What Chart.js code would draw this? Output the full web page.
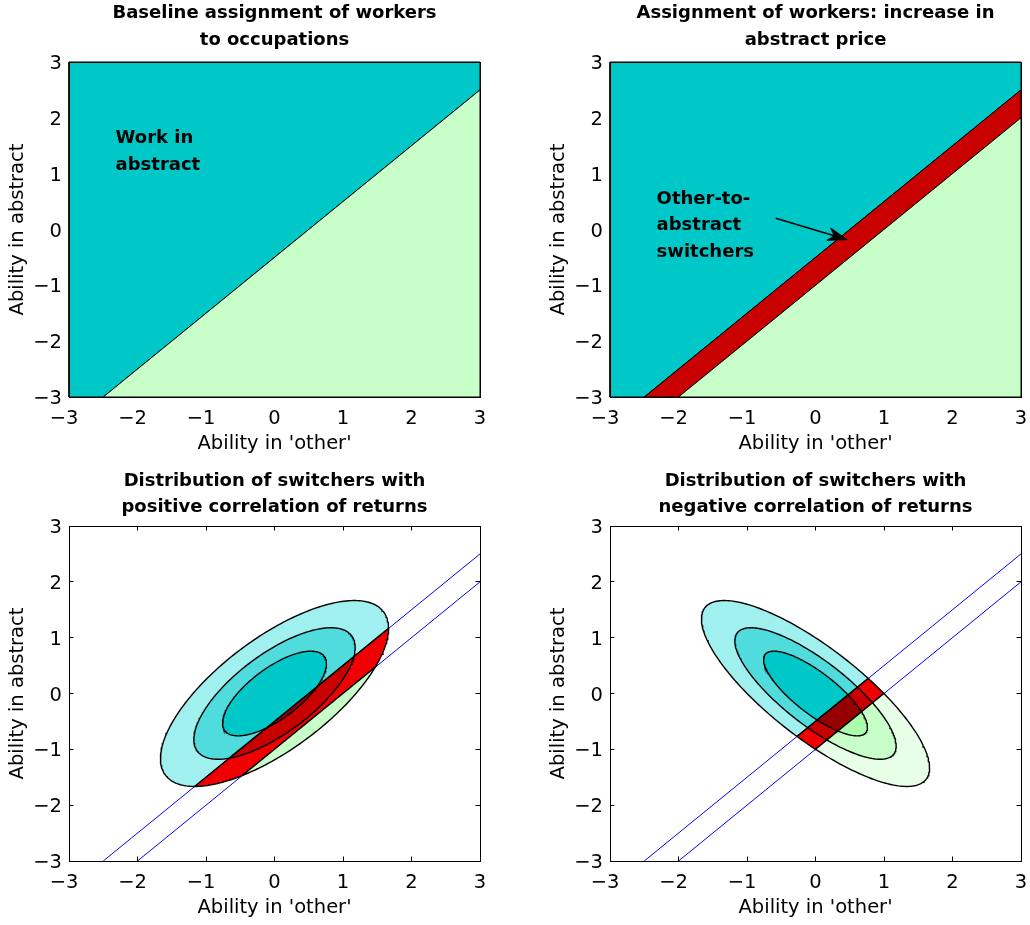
<!DOCTYPE html>
<html>
<head>
<meta charset="utf-8">
<title>Assignment of workers to occupations</title>
<script src="https://cdn.jsdelivr.net/npm/chart.js@4.4.1/dist/chart.umd.min.js"></script>
<style>
  html, body { margin: 0; padding: 0; background: #fff; overflow: hidden; }
  #wrap { position: relative; width: 1030px; height: 925px; }
  canvas { position: absolute; }
</style>
</head>
<body>
<div id="wrap">
  <canvas id="baseline" width="489" height="462" style="left:0;top:0"></canvas>
  <canvas id="priceRise" width="489" height="462" style="left:541px;top:0"></canvas>
  <canvas id="positiveCorr" width="489" height="462" style="left:0;top:464px"></canvas>
  <canvas id="negativeCorr" width="489" height="462" style="left:541px;top:464px"></canvas>
</div>
<script>
// axis ticks, both axes run over the same range
const tickValues = [-3, -2, -1, 0, 1, 2, 3];

// indifference lines y = x + c, before and after the abstract price rises
const cutoffBefore = -0.5;
const cutoffAfter = -1;

// correlation of the two abilities (unit variances)
const corrPositive = 0.7;
const corrNegative = -0.8;
// contour heights as a share of the peak density, outer to inner
const densityLevels = [0.25, 0.5, 0.75];

const cyan = '#00c8c8';
const lightGreen = '#c8ffc8';
const switchRed = '#c80000';
const cyanShades = ['#a0f0f0', '#50dcdc', '#00c8c8'];
const redShades = ['#f00000', '#c80000', '#960000'];
const greenShadesPos = ['#c8ffc8', '#aaffaa', '#90f890'];
const greenShadesNeg = ['#e6ffe6', '#c8ffc8', '#aaffaa'];

const titles = [
  ['Baseline assignment of workers', 'to occupations'],
  ['Assignment of workers: increase in', 'abstract price'],
  ['Distribution of switchers with', 'positive correlation of returns'],
  ['Distribution of switchers with', 'negative correlation of returns']
];
const xLabel = "Ability in 'other'";
const yLabel = 'Ability in abstract';

const baselineNotes = [{ x: -2.32, y: 1.55, lines: ['Work in', 'abstract'] }];
const switcherNotes = [{ x: -2.32, y: 0.46, lines: ['Other-to-', 'abstract', 'switchers'] }];
const arrowTail = { x: -0.58, y: 0.2 };
const arrowTip = { x: 0.46, y: -0.18 };

Chart.defaults.font.family = '"DejaVu Sans", sans-serif';
Chart.defaults.font.size = 19.5;
Chart.defaults.color = '#000';

const PLOT_W = 411, PLOT_H = 335;
const lo = tickValues[0], hi = tickValues[tickValues.length - 1];
const pxX = PLOT_W / (hi - lo), pxY = PLOT_H / (hi - lo);

// keep the part of a polygon where a*x + b*y + c >= 0
function clipHalf(poly, a, b, c) {
  const out = [];
  for (let i = 0; i < poly.length; i++) {
    const p = poly[i], q = poly[(i + 1) % poly.length];
    const fp = a * p.x + b * p.y + c, fq = a * q.x + b * q.y + c;
    if (fp >= 0) out.push(p);
    if ((fp >= 0) !== (fq >= 0)) {
      const t = fp / (fp - fq);
      out.push({ x: p.x + t * (q.x - p.x), y: p.y + t * (q.y - p.y) });
    }
  }
  return out;
}
const above = (poly, c) => clipHalf(poly, -1, 1, -c);
const below = (poly, c) => clipHalf(poly, 1, -1, c);

const box = [{ x: lo, y: lo }, { x: hi, y: lo }, { x: hi, y: hi }, { x: lo, y: hi }];

function contour(rho, level, n = 240) {
  const r = Math.sqrt(-2 * Math.log(level));
  const s = Math.sqrt(1 - rho * rho);
  const pts = [];
  for (let i = 0; i < n; i++) {
    const t = 2 * Math.PI * i / n;
    pts.push({ x: r * Math.cos(t), y: r * (rho * Math.cos(t) + s * Math.sin(t)) });
  }
  return pts;
}

function patch(poly, color, width) {
  return { data: poly.concat([poly[0]]), backgroundColor: color, borderColor: '#000', borderWidth: width, fill: 'shape' };
}

// split a region into: above the first cut, between the cuts, below the last cut
function zones(poly, cuts, colors, width = 1) {
  const parts = [above(poly, cuts[0])];
  if (cuts.length > 1) parts.push(below(above(poly, cuts[1]), cuts[0]));
  parts.push(below(poly, cuts[cuts.length - 1]));
  return parts.map((p, i) => ({ p, c: colors[i] }))
    .filter(z => z.p.length >= 3)
    .map(z => patch(z.p, z.c, width));
}

function boundaryLine(c) {
  const x0 = Math.max(lo, lo - c), x1 = Math.min(hi, hi - c);
  return { data: [{ x: x0, y: x0 + c }, { x: x1, y: x1 + c }], borderColor: '#0000ff', borderWidth: 1, fill: false };
}

function contourSet(rho, greens) {
  const sets = [boundaryLine(cutoffBefore), boundaryLine(cutoffAfter)];
  densityLevels.forEach((lev, k) => {
    sets.push(...zones(contour(rho, lev), [cutoffBefore, cutoffAfter],
      [cyanShades[k], redShades[k], greens[k]], 1.4));
  });
  return sets;
}

// arrow shaft plus a notched head, head sized in screen pixels
function arrow(tail, tip) {
  const dx = (tip.x - tail.x) * pxX, dy = -(tip.y - tail.y) * pxY;
  const len = Math.hypot(dx, dy), ux = dx / len, uy = dy / len;
  const headLen = 19, headW = 6.5;
  const at = (along, side) => ({
    x: tip.x + (-ux * along - uy * side) / pxX,
    y: tip.y - (-uy * along + ux * side) / pxY
  });
  const notch = at(headLen * 0.7, 0);
  const head = [tip, at(headLen, headW), notch, at(headLen, -headW)];
  return [
    { data: [tail, notch], borderColor: '#000', borderWidth: 1.5, fill: false },
    { data: head.concat([tip]), backgroundColor: '#000', borderColor: '#000', borderWidth: 1, fill: 'shape' }
  ];
}

function notesPlugin(notes) {
  return {
    id: 'notes',
    afterDatasetsDraw(chart) {
      const { ctx, scales } = chart;
      ctx.save();
      ctx.font = 'bold 18px "DejaVu Sans", sans-serif';
      ctx.fillStyle = '#000';
      ctx.textAlign = 'left';
      ctx.textBaseline = 'alphabetic';
      notes.forEach(n => {
        const x = scales.x.getPixelForValue(n.x), y = scales.y.getPixelForValue(n.y);
        n.lines.forEach((line, i) => ctx.fillText(line, x, y + i * 26.6));
      });
      ctx.restore();
    }
  };
}

const fmtY = v => (v < 0 ? '\u2212' + Math.abs(v) : String(v));
// negative x labels sit a little left of their tick
const fmtX = v => (v < 0 ? '\u2212' + Math.abs(v) + '\u2002' : String(v));

function drawPanel(id, cfg) {
  const n = cfg.datasets.length;
  const datasets = cfg.datasets.map((d, i) => Object.assign({
    showLine: true, pointRadius: 0, pointHoverRadius: 0, tension: 0, order: n - i, clip: 1
  }, d));
  const tl = cfg.inward ? -4.5 : 0;
  const grid = {
    display: cfg.inward, drawOnChartArea: false, drawTicks: cfg.inward,
    tickLength: tl, color: '#000', lineWidth: 1
  };
  const border = { display: true, color: '#000', width: 1, z: 1 };
  const range = { type: 'linear', min: lo, max: hi };
  // fixed axis sizes so every plot box lands on the same grid
  const fixH = h => s => { s.height = h; s.paddingLeft = 0; s.paddingRight = 0; };
  const fixW = w => s => { s.width = w; s.paddingTop = 0; s.paddingBottom = 0; };
  new Chart(document.getElementById(id), {
    type: 'scatter',
    data: { datasets },
    options: {
      responsive: false, animation: false, devicePixelRatio: 1, events: [],
      layout: { padding: { left: 0, right: 9, top: 0, bottom: 0 } },
      plugins: {
        legend: { display: false },
        tooltip: { enabled: false },
        title: {
          display: true, text: cfg.title, fullSize: false, color: '#000',
          font: { size: 18, weight: 'bold', lineHeight: '26.6px' },
          padding: cfg.titlePad
        }
      },
      scales: {
        x: Object.assign({}, range, {
          position: 'bottom', grid, border,
          ticks: { stepSize: 1, autoSkip: false, maxRotation: 0, padding: 10 - tl, callback: fmtX },
          title: { display: true, text: xLabel, padding: { top: 0, bottom: 6.1 } },
          afterFit: fixH(65)
        }),
        y: Object.assign({}, range, {
          position: 'left', grid, border,
          ticks: { stepSize: 1, autoSkip: false, padding: 7 - tl, labelOffset: 2, callback: fmtY },
          title: { display: true, text: yLabel, padding: { top: 6.3, bottom: 0 } },
          afterFit: fixW(69)
        }),
        x2: Object.assign({}, range, {
          position: 'top', grid, border,
          ticks: { stepSize: 1, display: false },
          afterFit: fixH(0)
        }),
        y2: Object.assign({}, range, {
          position: 'right', grid, border,
          ticks: { stepSize: 1, display: false },
          afterFit: fixW(0)
        })
      }
    },
    plugins: cfg.notes ? [notesPlugin(cfg.notes)] : []
  });
}

drawPanel('baseline', {
  title: titles[0], titlePad: { top: 0.5, bottom: 8.3 }, inward: false,
  datasets: zones(box, [cutoffBefore], [cyan, lightGreen]),
  notes: baselineNotes
});

drawPanel('priceRise', {
  title: titles[1], titlePad: { top: 0.5, bottom: 8.3 }, inward: false,
  datasets: zones(box, [cutoffBefore, cutoffAfter], [cyan, switchRed, lightGreen])
    .concat(arrow(arrowTail, arrowTip)),
  notes: switcherNotes
});

drawPanel('positiveCorr', {
  title: titles[2], titlePad: { top: 3.6, bottom: 5.2 }, inward: true,
  datasets: contourSet(corrPositive, greenShadesPos)
});

drawPanel('negativeCorr', {
  title: titles[3], titlePad: { top: 3.6, bottom: 5.2 }, inward: true,
  datasets: contourSet(corrNegative, greenShadesNeg)
});
</script>
</body>
</html>
